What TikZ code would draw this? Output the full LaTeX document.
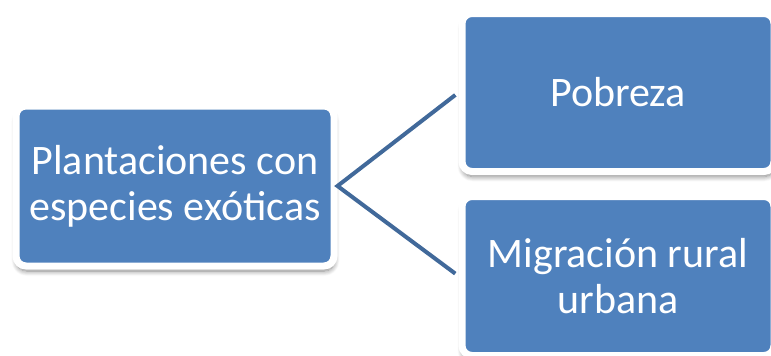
\documentclass[tikz,border=0pt]{standalone}
\usepackage{fontspec}
\setmainfont{Carlito}
\usetikzlibrary{shadows.blur}
\definecolor{boxblue}{HTML}{4F81BD}
\definecolor{lineblue}{HTML}{41699A}
\tikzset{
  causebox/.style={draw=white, line width=7pt, fill=boxblue, rounded corners=10pt,
    text=white, align=center, font=\fontsize{42}{46}\selectfont,
    blur shadow={shadow xshift=0.5pt, shadow yshift=-5pt, shadow opacity=50,
      shadow blur radius=5pt, shadow blur steps=8}},
  link/.style={lineblue, line width=4pt}
}
\begin{document}
\begin{tikzpicture}[x=1pt,y=-1pt]
  \useasboundingbox (0,0) rectangle (771,356);
  \node[causebox, minimum width=318pt, minimum height=160pt] (plant) at (175,186) {Plantaciones con\\especies exóticas};
  \node[causebox, minimum width=312pt, minimum height=158pt] (pobreza) at (618,92.5) {Pobreza};
  \node[causebox, minimum width=312pt, minimum height=159pt] (migra) at (618,276) {Migración rural\\urbana};
  \draw[link, shorten <=4pt, shorten >=4pt] (pobreza.west) -- (plant.east) -- (migra.west);
\end{tikzpicture}
\end{document}
